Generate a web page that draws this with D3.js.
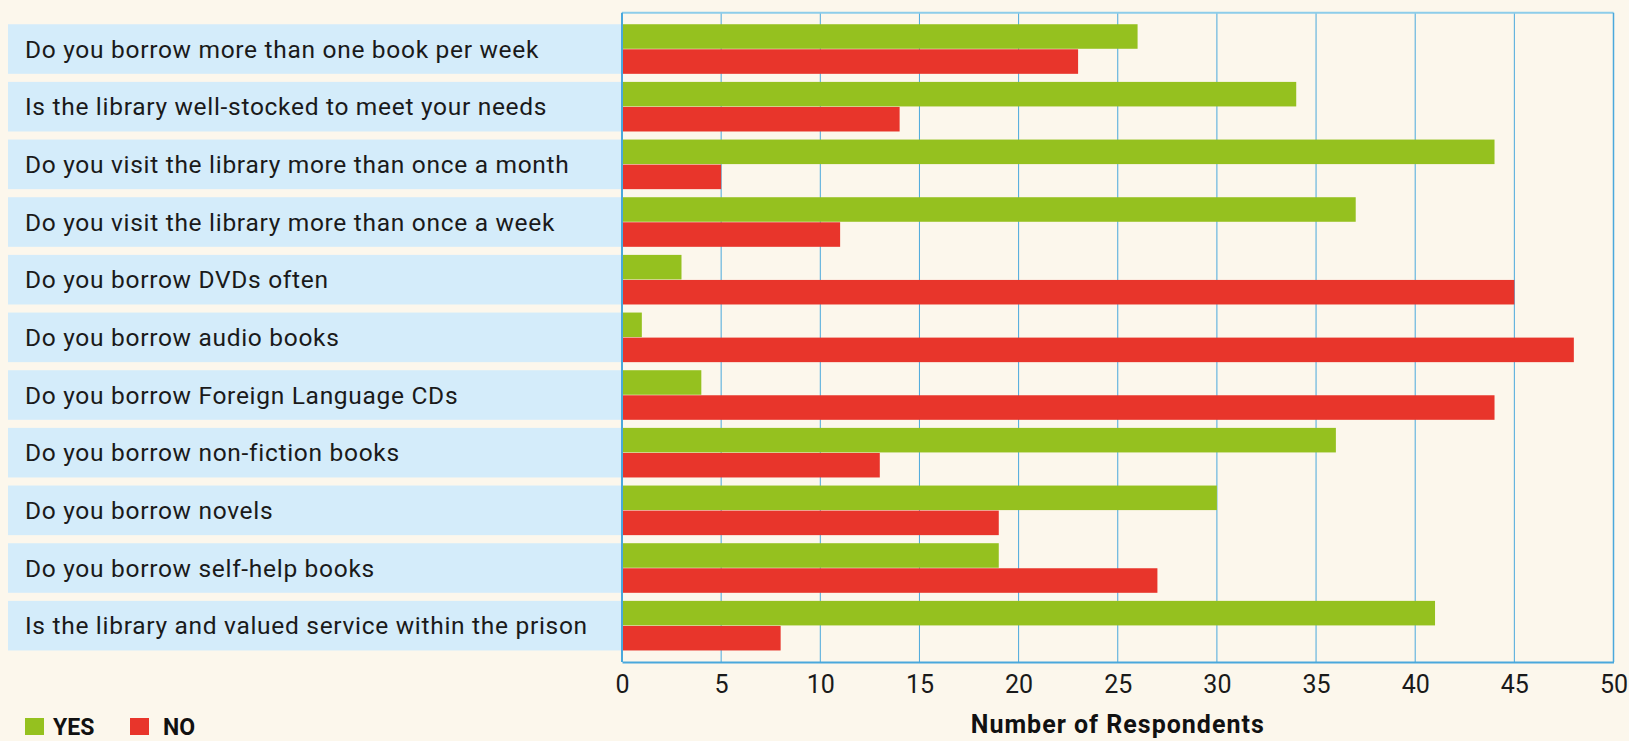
<!DOCTYPE html>
<html>
<head>
<meta charset="utf-8">
<script src="https://cdn.jsdelivr.net/npm/d3@7"></script>
<style>
  html, body { margin: 0; padding: 0; background: #fcf7ec; }
  svg { display: block; font-family: Roboto, "Noto Sans", sans-serif; }
</style>
</head>
<body>
<script>
// questions, top to bottom
const questions = [
  'Do you borrow more than one book per week',
  'Is the library well-stocked to meet your needs',
  'Do you visit the library more than once a month',
  'Do you visit the library more than once a week',
  'Do you borrow DVDs often',
  'Do you borrow audio books',
  'Do you borrow Foreign Language CDs',
  'Do you borrow non-fiction books',
  'Do you borrow novels',
  'Do you borrow self-help books',
  'Is the library and valued service within the prison'
];
const yesValues = [26, 34, 44, 37, 3, 1, 4, 36, 30, 19, 41];
const noValues = [23, 14, 5, 11, 45, 48, 44, 13, 19, 27, 8];
const seriesNames = ['YES', 'NO'];
const xTicks = [0, 5, 10, 15, 20, 25, 30, 35, 40, 45, 50];

const width = 1629, height = 741;
const plot = { left: 622, right: 1613.5, top: 12.7, bottom: 662 };
const colors = { YES: '#95c11f', NO: '#e8352b' };

const svg = d3.select('body').append('svg')
  .attr('width', width)
  .attr('height', height);

svg.append('rect')
  .attr('width', width)
  .attr('height', height)
  .attr('fill', '#fcf7ec');

// scales
const x = d3.scaleLinear().domain([0, 50]).range([plot.left, plot.right]);
const y = d3.scaleBand().domain(questions).range([plot.top, plot.bottom])
  .paddingInner(0.14).paddingOuter(0.2);
const sub = d3.scaleBand().domain(seriesNames).range([0, y.bandwidth()]).paddingInner(0.02);

const rows = questions.map((q, i) => ({ q, YES: yesValues[i], NO: noValues[i] }));

// label boxes
const labels = svg.append('g');
labels.selectAll('rect')
  .data(rows)
  .join('rect')
  .attr('x', 8)
  .attr('y', d => y(d.q))
  .attr('width', x(0) - 9)
  .attr('height', y.bandwidth())
  .attr('fill', '#d4ecfa');

labels.selectAll('text')
  .data(rows)
  .join('text')
  .attr('x', 25)
  .attr('y', d => y(d.q) + y.bandwidth() / 2 + 8.5)
  .attr('fill', '#1a1a1a')
  .style('font-size', '24.5px')
  .style('letter-spacing', '0.7px')
  .text(d => d.q);

// grid lines
svg.append('g')
  .selectAll('line')
  .data(xTicks.slice(1, -1))
  .join('line')
  .attr('x1', d => x(d))
  .attr('x2', d => x(d))
  .attr('y1', plot.top)
  .attr('y2', plot.bottom)
  .attr('stroke', '#4aa8dc')
  .attr('stroke-width', 1);

// bars
const bars = svg.append('g');
seriesNames.forEach(s => {
  bars.selectAll('rect.' + s)
    .data(rows)
    .join('rect')
    .attr('class', s)
    .attr('x', x(0))
    .attr('y', d => y(d.q) + sub(s))
    .attr('width', d => x(d[s]) - x(0))
    .attr('height', sub.bandwidth())
    .attr('fill', colors[s]);
});

// frame
svg.append('line')
  .attr('x1', plot.left).attr('x2', plot.right)
  .attr('y1', plot.top).attr('y2', plot.top)
  .attr('stroke', '#8dcdea').attr('stroke-width', 2);
svg.append('line')
  .attr('x1', plot.right).attr('x2', plot.right)
  .attr('y1', plot.top).attr('y2', plot.bottom)
  .attr('stroke', '#4aa8dc').attr('stroke-width', 1.5);
svg.append('line')
  .attr('x1', plot.left).attr('x2', plot.left)
  .attr('y1', plot.top).attr('y2', plot.bottom)
  .attr('stroke', '#4aa8dc').attr('stroke-width', 2);

// x axis
const xAxis = svg.append('g')
  .attr('transform', `translate(0,${plot.bottom})`)
  .call(d3.axisBottom(x).tickValues(xTicks).tickSize(0).tickPadding(13));
xAxis.select('.domain')
  .attr('stroke', '#4aa8dc')
  .attr('stroke-width', 2);
xAxis.selectAll('text')
  .attr('fill', '#1a1a1a')
  .style('font-size', '25px')
  .style('font-family', 'Roboto, sans-serif');

svg.append('text')
  .attr('x', (plot.left + plot.right) / 2)
  .attr('y', 733)
  .attr('text-anchor', 'middle')
  .attr('fill', '#111')
  .style('font-size', '25px')
  .style('font-weight', 'bold')
  .style('letter-spacing', '1px')
  .text('Number of Respondents');

// legend
const legendX = { YES: 25, NO: 130 };
const legendTextX = { YES: 53, NO: 163 };
const legend = svg.append('g');
seriesNames.forEach(s => {
  legend.append('rect')
    .attr('x', legendX[s])
    .attr('y', 718)
    .attr('width', 19)
    .attr('height', 17)
    .attr('fill', colors[s]);
  legend.append('text')
    .attr('x', legendTextX[s])
    .attr('y', 735)
    .attr('fill', '#111')
    .style('font-size', '23px')
    .style('font-weight', 'bold')
    .text(s);
});
</script>
</body>
</html>
